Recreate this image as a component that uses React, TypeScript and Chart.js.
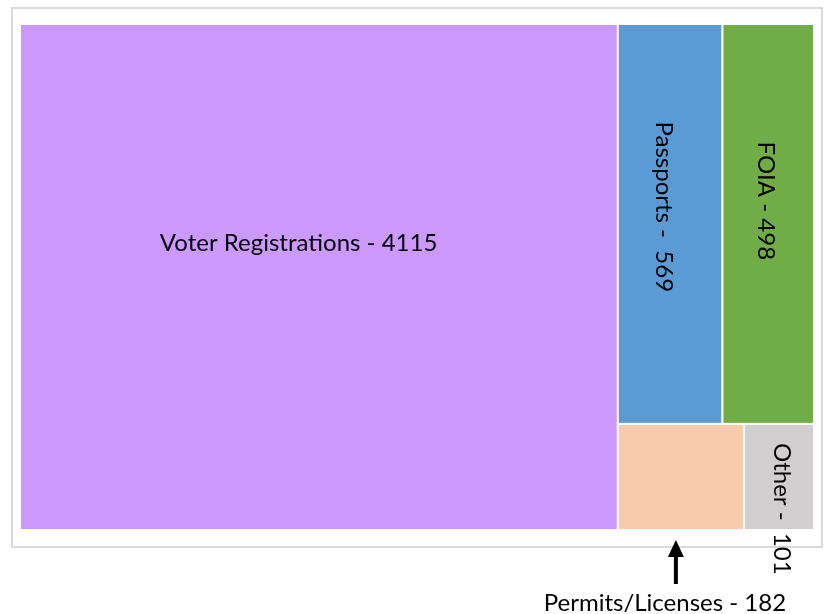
import React, { useEffect, useRef } from "react";
import { Chart, registerables } from "chart.js";

Chart.register(...registerables);

const categories = ["Voter Registrations", "Passports", "FOIA", "Permits/Licenses", "Other"];
const values = [4115, 569, 498, 182, 101];
const labelTexts = ["Voter Registrations - 4115", "Passports -  569", "FOIA - 498", "Permits/Licenses - 182", "Other -  101"];
const colors = ["#CC99FF", "#5B9BD5", "#70AD47", "#F8CBAD", "#D0CECE"];
// grouping: first column, then rows of the remaining column
const rowGroups = [[1, 2], [3, 4]];

type Rect = { x0: number; x1: number; y0: number; y1: number; i: number };

function layout(): { rects: Rect[]; total: number } {
  const total = values.reduce((a, b) => a + b, 0);
  const rects: Rect[] = [];
  // plot area: width = total, height = 1, so area == value
  rects.push({ x0: 0, x1: values[0], y0: 0, y1: 1, i: 0 });
  const colX0 = values[0];
  const colW = total - values[0];
  let y = 0;
  for (const row of rowGroups) {
    const rowSum = row.reduce((a, k) => a + values[k], 0);
    const h = rowSum / colW;
    let x = colX0;
    for (const k of row) {
      const w = values[k] / h;
      rects.push({ x0: x, x1: x + w, y0: y, y1: y + h, i: k });
      x += w;
    }
    y += h;
  }
  rects.sort((a, b) => a.i - b.i);
  return { rects, total };
}

// label placement (fractions of cell) and style
const labelPlacement = [
  { fx: 0.466, fy: 0.433, rot: 0, align: "center" },
  { fx: 0.437, fy: 0.457, rot: 1, align: "center" },
  { fx: 0.478, fy: 0.442, rot: 1, align: "center" },
  { fx: 0.46, fy: 1, rot: 0, align: "outside" },
  { fx: 0.536, fy: 0.18, rot: 1, align: "start" },
];

const FONT = '24px Lato, "Open Sans", sans-serif';

export default function App() {
  const ref = useRef<HTMLCanvasElement | null>(null);
  useEffect(() => {
    if (!ref.current) return;
    const { rects, total } = layout();

    const treemapPlugin = {
      id: "treemap",
      beforeDatasetsDraw(chart: any) {
        const { ctx, chartArea, scales } = chart;
        const xs = scales.x;
        const ys = scales.y;
        ctx.save();
        // frame
        ctx.strokeStyle = "#d9d9d9";
        ctx.lineWidth = 2;
        ctx.strokeRect(chartArea.left - 8, chartArea.top - 16, chartArea.right - chartArea.left + 16, chartArea.bottom - chartArea.top + 33);
        for (const r of rects) {
          const px0 = xs.getPixelForValue(r.x0);
          const px1 = xs.getPixelForValue(r.x1);
          const py0 = ys.getPixelForValue(r.y0);
          const py1 = ys.getPixelForValue(r.y1);
          const l = Math.min(px0, px1), t = Math.min(py0, py1);
          const w = Math.abs(px1 - px0), h = Math.abs(py1 - py0);
          ctx.fillStyle = colors[r.i];
          ctx.fillRect(l, t, w, h);
          ctx.strokeStyle = "#ffffff";
          ctx.lineWidth = 2;
          ctx.strokeRect(l, t, w, h);
        }
        // labels
        ctx.fillStyle = "#000000";
        ctx.font = FONT;
        for (const r of rects) {
          const p = labelPlacement[r.i];
          const px0 = xs.getPixelForValue(r.x0);
          const px1 = xs.getPixelForValue(r.x1);
          const py0 = ys.getPixelForValue(r.y0);
          const py1 = ys.getPixelForValue(r.y1);
          const cx = px0 + (px1 - px0) * p.fx;
          const cy = py0 + (py1 - py0) * p.fy;
          const text = labelTexts[r.i];
          if (p.align === "outside") {
            // arrow and label below the cell
            ctx.save();
            ctx.strokeStyle = "#000";
            ctx.fillStyle = "#000";
            ctx.lineWidth = 4;
            ctx.beginPath();
            ctx.moveTo(cx, cy + 54);
            ctx.lineTo(cx, cy + 25);
            ctx.stroke();
            ctx.beginPath();
            ctx.moveTo(cx, cy + 10);
            ctx.lineTo(cx - 8, cy + 27);
            ctx.lineTo(cx + 8, cy + 27);
            ctx.closePath();
            ctx.fill();
            ctx.textAlign = "center";
            ctx.textBaseline = "alphabetic";
            ctx.fillText(text, cx - 11, cy + 81);
            ctx.restore();
          } else if (p.rot) {
            ctx.save();
            ctx.translate(cx, cy);
            ctx.rotate(Math.PI / 2);
            ctx.textAlign = p.align === "start" ? "left" : "center";
            ctx.textBaseline = "middle";
            ctx.fillText(text, 0, 0);
            ctx.restore();
          } else {
            ctx.textAlign = "center";
            ctx.textBaseline = "middle";
            ctx.fillText(text, cx, cy);
          }
        }
        ctx.restore();
      },
    };

    const chart = new Chart(ref.current, {
      type: "scatter",
      data: {
        datasets: [
          {
            label: "Requests",
            data: rects.map((r) => ({ x: (r.x0 + r.x1) / 2, y: (r.y0 + r.y1) / 2 })),
            pointRadius: 0,
            pointHoverRadius: 0,
          },
        ],
      },
      options: {
        animation: false,
        responsive: false,
        maintainAspectRatio: false,
        layout: { padding: { left: 20, top: 24, right: 11, bottom: 84 } },
        plugins: { legend: { display: false }, tooltip: { enabled: false } },
        scales: {
          x: { type: "linear", min: 0, max: total, display: false },
          y: { type: "linear", min: 0, max: 1, reverse: true, display: false },
        },
      },
      plugins: [treemapPlugin],
    });
    return () => chart.destroy();
  }, []);

  return (
    <div style={{ position: "absolute", left: 0, top: 0, width: 825, height: 614, background: "#fff" }}>
      <canvas ref={ref} width={825} height={614} style={{ display: "block" }} />
    </div>
  );
}
